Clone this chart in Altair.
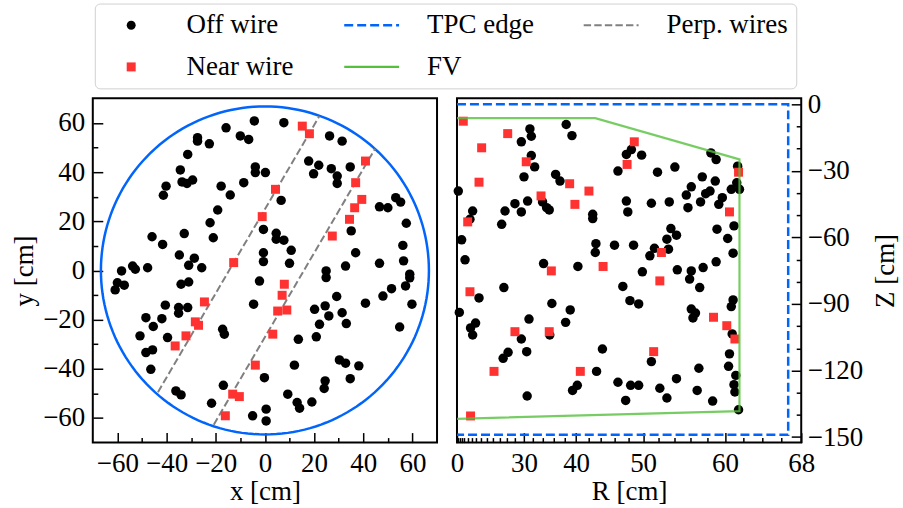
import altair as alt
import pandas as pd

FONT = "Liberation Serif"

# ---------------- transverse view: x, y [cm] ----------------
off_x = [-4.3, -15.8, -10.0, -6.6, -27.4, -27.4, -22.6, -31.4, -3.9, -3.9, 0.2, -34.4, -33.7, -31.7,
         -29.4, -40.2, -41.3, -17.8, -14.1, -8.6, -19.2, -22.3, -21.0, -32.8, -45.9, -41.6, -34.8,
         -28.7, -31.0, -25.7, -47.7, -53.8, -52.7, -58.3, -0.6, -0.6, -0.6, 7.7, 26.3, 31.4, 17.8,
         21.9, 19.8, 27.0, 29.4, 29.4, 34.7, 6.6, 4.6, 4.6, 7.7, 10.7, 10.0, 24.9, 32.8, 36.9, 35.1,
         46.6, 50.0, 53.2, 55.2, 57.5, 56.1, 56.4, 46.6, 58.9, -60.0, -57.2, -60.9, -34.1, -31.0,
         -2.2, -40.5, -35.1, -35.1, -31.4, -48.4, -41.9, -45.4, -50.8, -39.6, -48.4, -45.7, -46.4,
         -17.2, -16.5, -4.6, -36.2, -34.1, -16.9, -21.7, -5.0, 0.5, 0.5, -0.2, 24.9, 29.2, 20.2,
         24.5, 26.0, 31.4, 22.2, 33.1, 20.9, 13.6, 40.9, 48.0, 51.5, 57.2, 58.9, 59.8, 54.8, 30.3,
         32.8, 38.2, 34.7, 12.0, 24.5, 24.1, 9.3, 13.1, 14.1, 19.1]
off_y = [60.8, 58.0, 54.7, 53.3, 54.0, 52.6, 51.5, 47.2, 42.1, 39.8, 39.8, 40.9, 36.0, 35.4,
         36.8, 34.3, 30.6, 34.3, 30.7, 35.7, 24.6, 19.4, 13.3, 15.0, 13.7, 10.6, 6.3,
         5.0, 2.1, 1.1, 1.1, 1.8, 0.5, -0.2, 16.7, 7.2, 3.6, 60.1, 54.7, 52.6, 44.5,
         42.8, 39.3, 41.4, 38.4, 35.4, 42.1, 28.5, 15.1, 12.7, 12.3, 8.2, 2.9, -0.2, 1.8, 7.2, 16.1,
         25.9, 25.5, 29.6, 27.8, 19.2, 10.2, 3.9, 2.9, -1.5, -5.0, -6.0, -7.9, -5.6, -4.7,
         -4.3, -14.1, -15.1, -17.4, -15.1, -19.2, -19.6, -22.8, -26.6, -27.3, -33.4, -32.3, -40.2,
         -23.9, -25.9, -13.7, -49.0, -50.6, -46.7, -54.0, -59.1, -56.4, -61.2, -43.6, -2.9, -10.6, -15.8,
         -14.4, -18.5, -17.2, -21.9, -21.6, -27.0, -28.0, -13.3, -10.4, -7.4, -6.3, -3.0, -13.7, -23.0, -36.4,
         -37.7, -38.8, -44.0, -38.5, -44.9, -48.0, -50.3, -53.7, -56.0, -53.5]

near_x = [-1.1, -12.7, 15.2, 18.1, 40.9, 36.9, 39.4, 36.5, 34.4, 4.3, 27.4, -24.6, -28.3, -27.0,
          -32.1, -36.5, -3.9, -13.1, -10.4, -16.1, 7.9, 7.0, 5.2, 8.9, 3.2]
near_y = [21.9, 3.2, 58.7, 55.6, 44.5, 35.7, 28.9, 25.5, 20.8, 33.0, 14.0, -12.8, -20.9, -22.3,
          -26.6, -30.7, -38.5, -50.3, -51.3, -59.1, -5.6, -10.1, -16.5, -16.1, -25.9]

# perpendicular wire segments (end points)
wire_id = ["w1", "w1", "w2", "w2"]
wire_x = [-43.5, 22.1, -20.8, 44.8]
wire_y = [-49.5, 62.7, -62.7, 49.5]

# ---------------- side view: R, Z [cm] ----------------
off_r = [4.2, 7.9, 10.4, 14.5, 13.2, 24.5, 25.4, 27.9, 29.4, 30.8, 31.3, 31.6, 29.4, 31.6, 32.3,
         30.0, 33.9, 34.7, 35.2, 36.4, 37.2, 38.3, 39.3, 42.7, 42.7, 43.2, 43.1, 46.0, 34.1, 40.3,
         46.5, 47.7, 47.7, 47.9, 48.4, 49.8, 51.9, 54.1, 57.4, 58.4, 59.0, 58.9, 56.1, 55.5, 57.8,
         58.3, 57.2, 59.3, 59.7, 55.7, 53.4, 51.1, 61.4, 61.3, 61.6, 60.7, 61.0, 59.1, 60.3, 60.9,
         53.6, 53.1, 54.3, 53.3, 51.5, 50.9, 48.7, 49.9, 54.4, 56.1, 57.5, 59.0, 25.1, 17.2, 5.6,
         13.5, 15.8, 14.5, 31.1, 29.4, 30.6, 24.9, 26.2, 35.3, 35.7, 39.0, 38.2, 44.2, 43.3, 30.7,
         39.4, 40.2, 46.5, 47.6, 47.2, 48.2, 55.9, 57.1, 49.4, 56.1, 56.6, 56.3, 60.9, 60.7, 60.8,
         60.5, 60.4, 61.2, 61.0, 61.1, 61.5, 57.0, 56.8, 58.6, 54.3, 53.1, 52.2, 51.1, 49.4, 48.3]
off_z = [-39.1, -61.1, -70.1, -48.1, -51.8, -54.1, -48.1, -44.8, -48.5, -43.6, -11.1, -14.4, -16.9, -23.1, -28.2,
         -32.7, -44.0, -46.6, -47.6, -31.6, -34.6, -9.1, -14.1, -49.6, -51.5, -62.8, -66.8, -63.5, -71.8, -73.1,
         -30.1, -22.6, -43.6, -48.5, -20.4, -22.9, -30.6, -28.3, -32.7, -21.9, -24.9, -34.6, -37.2, -40.9, -40.3,
         -39.1, -44.0, -45.1, -42.1, -46.6, -44.0, -44.6, -27.9, -35.4, -38.3, -38.3, -54.8, -56.3, -60.5, -67.1,
         -56.0, -60.8, -59.0, -65.3, -64.9, -68.3, -63.5, -75.5, -74.6, -75.1, -73.6, -71.0, -82.6, -87.3, -93.8,
         -100.8, -98.6, -104.0, -96.8, -105.8, -111.5, -114.5, -111.8, -104.0, -89.8, -92.7, -98.3, -110.3, -120.4, -131.5,
         -129.0, -126.7, -125.3, -133.5, -82.1, -88.5, -78.8, -82.6, -90.0, -92.3, -94.1, -96.3, -88.2, -91.2, -103.5,
         -112.5, -118.1, -122.2, -126.4, -129.7, -137.7, -119.0, -129.0, -133.8, -123.7, -132.4, -128.0, -116.0, -126.7, -126.7]

near_r = [9.2, 26.1, 18.2, 30.5, 17.2, 38.9, 42.1, 33.6, 39.8, 12.0, 35.6, 44.3, 48.8, 47.8,
          61.5, 60.5, 52.4, 13.2, 27.9, 35.2, 22.3, 40.7, 13.5, 52.2, 58.7, 60.2, 61.1, 51.4]
near_z = [-7.6, -13.2, -19.6, -25.9, -35.1, -35.8, -39.1, -41.3, -45.1, -53.0, -75.1, -73.1, -16.9, -27.1,
          -30.6, -48.5, -66.8, -84.5, -102.5, -102.5, -120.4, -120.4, -140.5, -79.6, -96.0, -99.8, -105.8, -111.5]

# detector outlines in the side view
tpc_radius = 66.7
tpc_r = [0, tpc_radius, tpc_radius, 0]
tpc_z = [0, 0, -149, -149]
fv_r = [0, 43.1, 61.6, 61.6, 0]
fv_z = [-6.2, -6.2, -24.8, -138.3, -141.8]

# ---------------- legend entries (row-major, three columns) ----------------
KINDS = ["Off wire", "TPC edge", "Perp. wires", "Near wire", "FV"]
COLORS = ["#000000", "#0165fc", "#808080", "#ff3232", "#55c03c"]
C = dict(zip(KINDS, COLORS))
TPC_DASH = [9, 4]
WIRE_DASH = [7.4, 3.2]
# legend glyphs in unit coordinates: markers sit in the middle of a line-length handle
DOT = "M2.33,0A1,1,0,1,1,4.33,0A1,1,0,1,1,2.33,0Z"
BOX = "M2.33,-1H4.33V1H2.33Z"
LINE = "M-2.78,0H9.44"
GLYPHS = [DOT, LINE, LINE, BOX, LINE]
DASHES = [[1, 0], TPC_DASH, WIRE_DASH, [1, 0], [1, 0]]
WIDTHS = [0, 2.5, 2, 0, 2.2]

legend = alt.Legend(
    title=None, orient="none", legendX=2, legendY=-95, direction="horizontal", columns=3,
    columnPadding=44, rowPadding=14, labelOffset=57, padding=8, symbolSize=81,
    strokeColor="#d0d0d0", fillColor="white", cornerRadius=5,
    labelFont=FONT, labelFontSize=27, labelColor="black", labelLimit=400,
)


def major_axis(orient, values, title, pad, title_pad, tick=10):
    return alt.Axis(orient=orient, values=values, title=title, tickSize=tick, offset=-tick,
                    domain=False, grid=False, labelPadding=pad, titlePadding=title_pad,
                    format="d", labelFlush=False, labelOverlap=False)


def minor_axis(orient, values, tick=5):
    return alt.Axis(orient=orient, values=values, title=None, labels=False, tickSize=tick,
                    offset=-tick, domain=False, grid=False)


# ---------------- left panel: x-y ----------------
off_xy = pd.DataFrame({"x": off_x, "y": off_y})
near_xy = pd.DataFrame({"x": near_x, "y": near_y})
wires = pd.DataFrame({"wire": wire_id, "x": wire_x, "y": wire_y})
legend_rows = pd.DataFrame({"x": pd.Series([], dtype=float), "y": pd.Series([], dtype=float),
                            "kind": pd.Series([], dtype=str)})

xs = alt.Scale(domain=[-70, 70], nice=False, zero=False)
ys = alt.Scale(domain=[-70, 70], nice=False, zero=False)
xy_major = [-60, -40, -20, 0, 20, 40, 60]
xy_minor = [-50, -30, -10, 10, 30, 50]

circle = alt.Chart(alt.sequence(0, 362, 2, as_="deg")).transform_calculate(
    cx=f"{tpc_radius} * cos(datum.deg * PI / 180)",
    cy=f"{tpc_radius} * sin(datum.deg * PI / 180)",
).mark_line(color=C["TPC edge"], strokeWidth=2.5).encode(
    x=alt.X("cx:Q", scale=xs, axis=minor_axis("bottom", xy_minor)),
    y=alt.Y("cy:Q", scale=ys, axis=minor_axis("left", xy_minor)),
    order="deg:Q",
)

wire_lines = alt.Chart(wires).mark_line(
    color=C["Perp. wires"], strokeWidth=2, strokeDash=WIRE_DASH
).encode(
    x=alt.X("x:Q", scale=xs, axis=None),
    y=alt.Y("y:Q", scale=ys, axis=None),
    detail="wire:N",
)

xy_off = alt.Chart(off_xy).mark_point(
    filled=True, opacity=1, shape="circle", size=90, color=C["Off wire"]
).encode(
    x=alt.X("x:Q", scale=xs, axis=major_axis("bottom", xy_major, "x [cm]", 8, 2)),
    y=alt.Y("y:Q", scale=ys, axis=major_axis("left", xy_major, "y [cm]", 8, 4)),
)

xy_near = alt.Chart(near_xy).mark_point(
    filled=True, opacity=1, shape="square", size=81, color=C["Near wire"]
).encode(
    x=alt.X("x:Q", scale=xs, axis=None),
    y=alt.Y("y:Q", scale=ys, axis=None),
)

# legend carrier: no rows, only the category scales
key = alt.Chart(legend_rows).mark_point(filled=True, opacity=1).encode(
    x=alt.X("x:Q", scale=xs, axis=None),
    y=alt.Y("y:Q", scale=ys, axis=None),
    fill=alt.Fill("kind:N", scale=alt.Scale(domain=KINDS, range=COLORS), legend=legend),
    stroke=alt.Stroke("kind:N", scale=alt.Scale(domain=KINDS, range=COLORS), legend=legend),
    shape=alt.Shape("kind:N", scale=alt.Scale(domain=KINDS, range=GLYPHS), legend=legend),
    strokeDash=alt.StrokeDash("kind:N", scale=alt.Scale(domain=KINDS, range=DASHES), legend=legend),
    strokeWidth=alt.StrokeWidth("kind:N", scale=alt.Scale(type="ordinal", domain=KINDS, range=WIDTHS),
                                legend=legend),
)

left = alt.layer(circle, wire_lines, xy_off, xy_near, key).resolve_axis(
    x="independent", y="independent"
).properties(width=345, height=345)

# ---------------- right panel: R-Z ----------------
off_rz = pd.DataFrame({"r": off_r, "z": off_z})
near_rz = pd.DataFrame({"r": near_r, "z": near_z})
tpc = pd.DataFrame({"r": tpc_r, "z": tpc_z, "i": range(len(tpc_r))})
fv = pd.DataFrame({"r": fv_r, "z": fv_z, "i": range(len(fv_r))})

rs = alt.Scale(type="pow", exponent=2, domain=[0, 68], nice=False, zero=False)
zs = alt.Scale(domain=[-152.5, 2.7], nice=False, zero=False)
r_major = [0, 30, 40, 50, 60, 68]
r_minor = [v for v in range(2, 68, 2) if v not in r_major]
z_major = [0, -30, -60, -90, -120, -150]
z_minor = [v for v in range(0, -151, -10) if v not in z_major]

rz_off = alt.Chart(off_rz).mark_point(
    filled=True, opacity=1, shape="circle", size=90, color=C["Off wire"]
).encode(
    x=alt.X("r:Q", scale=rs, axis=major_axis("bottom", r_major, "R [cm]", 8, 2)),
    y=alt.Y("z:Q", scale=zs, axis=major_axis("right", z_major, "Z [cm]", 6, 10)),
)

rz_near = alt.Chart(near_rz).mark_point(
    filled=True, opacity=1, shape="square", size=81, color=C["Near wire"]
).encode(
    x=alt.X("r:Q", scale=rs, axis=None),
    y=alt.Y("z:Q", scale=zs, axis=None),
)

fv_line = alt.Chart(fv).mark_line(
    color=C["FV"], strokeWidth=2.2, opacity=0.8
).encode(
    x=alt.X("r:Q", scale=rs, axis=minor_axis("bottom", r_minor)),
    y=alt.Y("z:Q", scale=zs, axis=minor_axis("right", z_minor)),
    order="i:Q",
)

tpc_line = alt.Chart(tpc).mark_line(
    color=C["TPC edge"], strokeWidth=2.5, strokeDash=TPC_DASH
).encode(
    x=alt.X("r:Q", scale=rs, axis=None),
    y=alt.Y("z:Q", scale=zs, axis=None),
    order="i:Q",
)

right = alt.layer(rz_off, rz_near, fv_line, tpc_line).resolve_axis(
    x="independent", y="independent"
).properties(width=345, height=345)

chart = alt.hconcat(left, right, spacing=11).properties(
    padding={"left": 9, "top": 2, "right": 3, "bottom": 2},
    background="white",
).configure_view(
    stroke="black", strokeWidth=2
).configure_axis(
    labelFont=FONT, labelFontSize=27, labelColor="black",
    titleFont=FONT, titleFontSize=27, titleFontWeight="normal", titleColor="black",
    tickColor="black", tickWidth=1.5,
).configure_axisRight(
    titleAngle=-90, titleBaseline="top"
)

chart.save("out.html", embed_options={"renderer": "svg", "actions": False})
